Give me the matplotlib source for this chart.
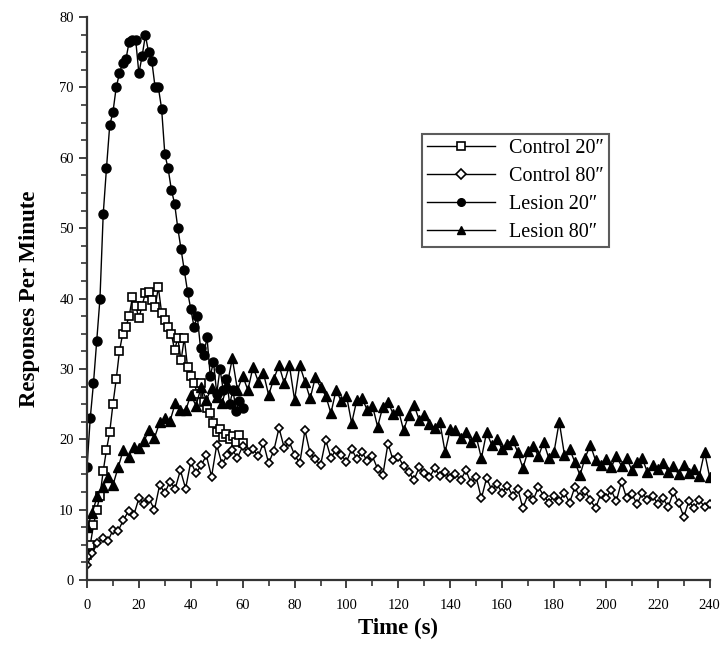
import matplotlib.pyplot as plt
import numpy as np

plt.rcParams['font.family'] = ['Liberation Serif', 'DejaVu Serif']

# Tiempos (s): series 20" cada 1.25 s hasta 60, series 80" cada 2 s hasta 240
t20 = np.arange(0, 60.01, 1.25)
t80 = np.arange(0, 240.01, 2)

lesion20 = [16, 23, 28, 34, 40, 52, 58.5, 64.6, 66.5, 70, 72, 73.5, 74, 76.5,
            76.8, 76.8, 72, 74.5, 77.4, 75, 73.7, 70, 70, 67, 60.5, 58.5, 55.5,
            53.5, 50, 47, 44, 41, 38.5, 36, 37.5, 33, 32, 34.5, 29, 31, 26.5,
            30, 27, 28.5, 25, 27, 24, 25.5, 24.5]

control20 = [3.5, 5, 7.8, 10, 12, 15.5, 18.5, 21, 25, 28.5, 32.5, 35, 36, 37.5,
             40.2, 39, 37.2, 39, 40.8, 41, 39.8, 38.8, 41.6, 38, 37, 36, 35,
             32.7, 34.4, 31.2, 34.4, 30.3, 29, 28, 26.5, 28, 25.3, 24.5, 23.7,
             22.3, 21, 21.5, 20.3, 20.8, 20, 20.5, 19.6, 20.6, 19.5]

control80 = [2.1, 3.8, 5.2, 6, 5.5, 7.1, 7, 8.5, 9.8, 9.2, 11.6, 10.8, 11.5, 10,
             13.5, 12.4, 14, 13, 15.6, 13, 16.8, 15.2, 16.3, 17.7, 14.7, 19.2,
             16.5, 17.7, 18.5, 17.4, 19, 18.2, 18.6, 17.6, 19.5, 16.6, 18.4,
             21.6, 18.8, 19.6, 17.8, 16.6, 21.3, 18, 17.2, 16.3, 19.9, 17.4,
             18.5, 17.8, 16.8, 18.6, 17.2, 18.2, 16.9, 17.6, 15.8, 14.9, 19.4,
             17, 17.5, 16.2, 15.4, 14.2, 16, 15.2, 14.6, 15.9, 14.8, 15.3, 14.5,
             15.1, 14.2, 15.6, 13.8, 14.6, 11.6, 14.5, 12.8, 13.6, 12.4, 13.4,
             12, 13, 10.2, 12.2, 11.4, 13.2, 12, 11, 12, 11.2, 12.4, 11, 13.2,
             11.8, 12.6, 11.4, 10.2, 12.2, 11.6, 12.8, 11.2, 14, 11.6, 12.2,
             10.8, 12.4, 11.4, 12, 10.8, 11.6, 10.4, 12.5, 11, 9, 11.2, 10.2,
             11.4, 10.4, 10.8]

lesion80 = [7.5, 9.5, 12, 13.2, 14.6, 13.5, 16, 18.5, 17.5, 18.9, 18.7, 19.8,
            21.3, 20.2, 22.4, 23, 22.6, 25.1, 24.2, 24.1, 26.3, 24.8, 27.4,
            25.6, 27.3, 26, 25.1, 27.7, 31.5, 27, 29, 27, 30.3, 28.2, 29.4,
            26.3, 28.6, 30.5, 28, 30.5, 25.6, 30.5, 28.2, 25.8, 28.8, 27.4,
            26.2, 23.7, 27, 25.4, 26.2, 22.3, 25.6, 25.8, 24.2, 24.8, 21.8,
            24.6, 25.3, 23.6, 24.2, 21.3, 23.4, 24.9, 22.8, 23.5, 22.2, 21.6,
            22.4, 18.2, 21.4, 21.3, 20.2, 21, 19.6, 20.4, 17.3, 21, 19.2, 20,
            18.6, 19.4, 19.9, 18.2, 15.9, 18.4, 19, 17.6, 19.6, 17.3, 18.2,
            22.5, 17.8, 18.6, 16.8, 14.9, 17.4, 19.2, 17, 16.4, 17.2, 16, 17.6,
            16.2, 17.3, 15.6, 16.8, 17.3, 15.3, 16.4, 15.8, 16.6, 15.4, 16.2,
            15, 16.4, 15.2, 15.8, 14.8, 18.2, 14.6]

etiquetas = ['Control 20\u2033', 'Control 80\u2033', 'Lesion 20\u2033', 'Lesion 80\u2033']

fig = plt.figure(figsize=(7.22, 6.58), dpi=100)
ax = fig.add_axes([0.1205, 0.1185, 0.8625, 0.8555])

ax.plot(t20, control20, color='k', lw=1, marker='s', ms=6, mfc='white',
        mec='k', mew=1.2, label=etiquetas[0])
ax.plot(t80, control80, color='k', lw=1, marker='D', ms=4, mfc='white',
        mec='k', mew=1.2, label=etiquetas[1])
ax.plot(t20, lesion20, color='k', lw=1, marker='o', ms=6.5, mfc='k',
        mec='k', label=etiquetas[2])
ax.plot(t80, lesion80, color='k', lw=1, marker='^', ms=6.5, mfc='k',
        mec='k', label=etiquetas[3])

ax.set_xlim(0, 240)
ax.set_ylim(0, 80)
ax.set_xticks(np.arange(0, 241, 20))
ax.set_xticks(np.arange(0, 241, 10), minor=True)
ax.set_yticks(np.arange(0, 81, 10))
ax.set_yticks(np.arange(0, 81, 2.5), minor=True)
ax.tick_params(which='major', length=6, width=1.3, labelsize=10.5, color='#333333')
ax.tick_params(which='minor', length=4, width=1.2, color='#333333')
ax.tick_params(axis='x', pad=8)

for lado in ['top', 'right']:
    ax.spines[lado].set_visible(False)
for lado in ['left', 'bottom']:
    ax.spines[lado].set_linewidth(1.6)
    ax.spines[lado].set_color('#333333')

ax.set_xlabel('Time (s)', fontsize=16.5, fontweight='bold', labelpad=4)
ax.set_ylabel('Responses Per Minute', fontsize=16.5, fontweight='bold', labelpad=14)

leg = ax.legend(loc='upper left', bbox_to_anchor=(0.584, 0.797),
                bbox_transform=fig.transFigure, fontsize=14.5, frameon=True,
                fancybox=False, handlelength=3.4, borderpad=0.25,
                labelspacing=0.45, handletextpad=0.7, borderaxespad=0)
leg.get_frame().set_edgecolor('#333333')
leg.get_frame().set_linewidth(1.5)
for linea in leg.get_lines():
    linea.set_markersize(5.5)

fig.savefig('out.png', dpi=100)
